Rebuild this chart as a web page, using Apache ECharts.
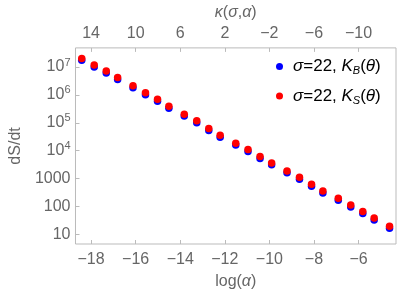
<!DOCTYPE html>
<html>
<head>
<meta charset="utf-8">
<script src="https://cdn.jsdelivr.net/npm/echarts@6/dist/echarts.min.js"></script>
<style>html,body{margin:0;padding:0;background:#fff;}#c{width:419px;height:295px;}</style>
</head>
<body>
<div id="c"></div>
<script>
const logAlpha = [-18.42, -17.86, -17.32, -16.81, -16.12, -15.56, -15.02, -14.51, -13.82, -13.26, -12.72, -12.21, -11.51, -10.96, -10.42, -9.90, -9.21, -8.65, -8.11, -7.60, -6.91, -6.35, -5.81, -5.30, -4.61];
const kB = [1.73e7, 9.95e6, 6.06e6, 3.57e6, 1.79e6, 1.01e6, 5.96e5, 3.35e5, 1.74e5, 1.00e5, 5.34e4, 3.07e4, 1.59e4, 9440, 5250, 3120, 1610, 952, 534, 307, 169, 97, 56, 33, 16.6];
const kS = [2.03e7, 1.17e7, 7.13e6, 4.20e6, 2.11e6, 1.19e6, 7.01e5, 3.94e5, 2.05e5, 1.18e5, 6.28e4, 3.61e4, 1.87e4, 1.11e4, 6180, 3670, 1890, 1120, 628, 361, 199, 114, 65.8, 38.8, 19.5];
const xTicks = [-18, -16, -14, -12, -10, -8, -6];
const kappaTicks = [14, 10, 6, 2, -2, -6, -10];
const yTicks = [10, 100, 1000, 1e4, 1e5, 1e6, 1e7];
const seriesNames = ['B', 'S'];

const FONT = 'Liberation Sans';
const GRAY = '#666';
const xMin = -18.7, xMax = -4.32;
const toKappa = v => -2 * v - 22;

const chart = echarts.init(document.getElementById('c'), null, {renderer: 'canvas'});
const axisCommon = {
  axisLine: {show: false, onZero: false},
  splitLine: {show: false},
  axisTick: {show: true, inside: true, length: 4, lineStyle: {color: '#bbb'}},
  axisLabel: {color: GRAY, fontFamily: FONT, fontSize: 16}
};
const option = {
  animation: false,
  grid: {left: 62, right: 23, top: 43, bottom: 47, show: true, borderColor: '#bbb', borderWidth: 1},
  xAxis: [
    Object.assign({}, axisCommon, {
      type: 'value', position: 'bottom', min: xMin, max: xMax,
      axisTick: Object.assign({}, axisCommon.axisTick, {customValues: xTicks}),
      axisLabel: Object.assign({}, axisCommon.axisLabel, {customValues: xTicks, margin: 8,
        formatter: v => String(v).replace('-', '\u2212')}),
      name: 'log({i|α})', nameLocation: 'middle', nameGap: 30,
      nameTextStyle: {color: GRAY, fontFamily: FONT, fontSize: 16,
        rich: {i: {fontStyle: 'italic', color: GRAY, fontFamily: FONT, fontSize: 16}}}
    }),
    Object.assign({}, axisCommon, {
      type: 'value', position: 'top', min: toKappa(xMax), max: toKappa(xMin), inverse: true,
      axisTick: Object.assign({}, axisCommon.axisTick, {customValues: kappaTicks}),
      axisLabel: Object.assign({}, axisCommon.axisLabel, {customValues: kappaTicks, margin: 6,
        formatter: v => String(v).replace('-', '\u2212')}),
      name: '{i|κ}({i|σ},{i|α})', nameLocation: 'middle', nameGap: 26,
      nameTextStyle: {color: GRAY, fontFamily: FONT, fontSize: 16,
        rich: {i: {fontStyle: 'italic', color: GRAY, fontFamily: FONT, fontSize: 16}}}
    })
  ],
  yAxis: Object.assign({}, axisCommon, {
    type: 'log', logBase: 10, min: 4.55, max: 4.84e7,
    axisTick: Object.assign({}, axisCommon.axisTick, {customValues: yTicks}),
    axisLabel: Object.assign({}, axisCommon.axisLabel, {customValues: yTicks, margin: 5,
      formatter: v => {
        const e = Math.round(Math.log10(v));
        if (e >= 4) return '{b|10}{sup|' + e + '}';
        return '{b|' + Math.round(v) + '}';
      },
      rich: {
        b: {color: GRAY, fontFamily: FONT, fontSize: 16, lineHeight: 20},
        sup: {color: GRAY, fontFamily: FONT, fontSize: 11, lineHeight: 20, verticalAlign: 'top', padding: [0, 0, 8, 0]}
      }
    }),
    name: 'dS/dt', nameLocation: 'middle', nameGap: 38,
    nameTextStyle: {color: GRAY, fontFamily: FONT, fontSize: 16}
  }),
  legend: {
    orient: 'vertical', left: 271, top: 53, itemGap: 11,
    icon: 'circle', itemWidth: 7, itemHeight: 7,
    data: seriesNames,
    formatter: n => '{i|σ}{t|=22, }{i|K}{sub|' + n + '}{t|(}{i|θ}{t|)}',
    textStyle: {
      color: '#000', fontFamily: FONT, fontSize: 16, padding: [0, 0, 0, 5],
      rich: {
        i: {fontStyle: 'italic', color: '#000', fontFamily: FONT, fontSize: 17, lineHeight: 20},
        t: {color: '#000', fontFamily: FONT, fontSize: 17, lineHeight: 20},
        sub: {fontStyle: 'italic', color: '#000', fontFamily: FONT, fontSize: 11, lineHeight: 20, verticalAlign: 'bottom', padding: [6, 0, 0, 0]}
      }
    }
  },
  series: [
    {name: 'B', type: 'scatter', xAxisIndex: 0, symbolSize: 7.5, itemStyle: {color: '#0000ff', opacity: 1},
      data: logAlpha.map((x, i) => [x, kB[i]])},
    {name: 'S', type: 'scatter', xAxisIndex: 0, symbolSize: 7.5, itemStyle: {color: '#ff0000', opacity: 1},
      data: logAlpha.map((x, i) => [x, kS[i]])}
  ]
};
chart.setOption(option);
</script>
</body>
</html>
